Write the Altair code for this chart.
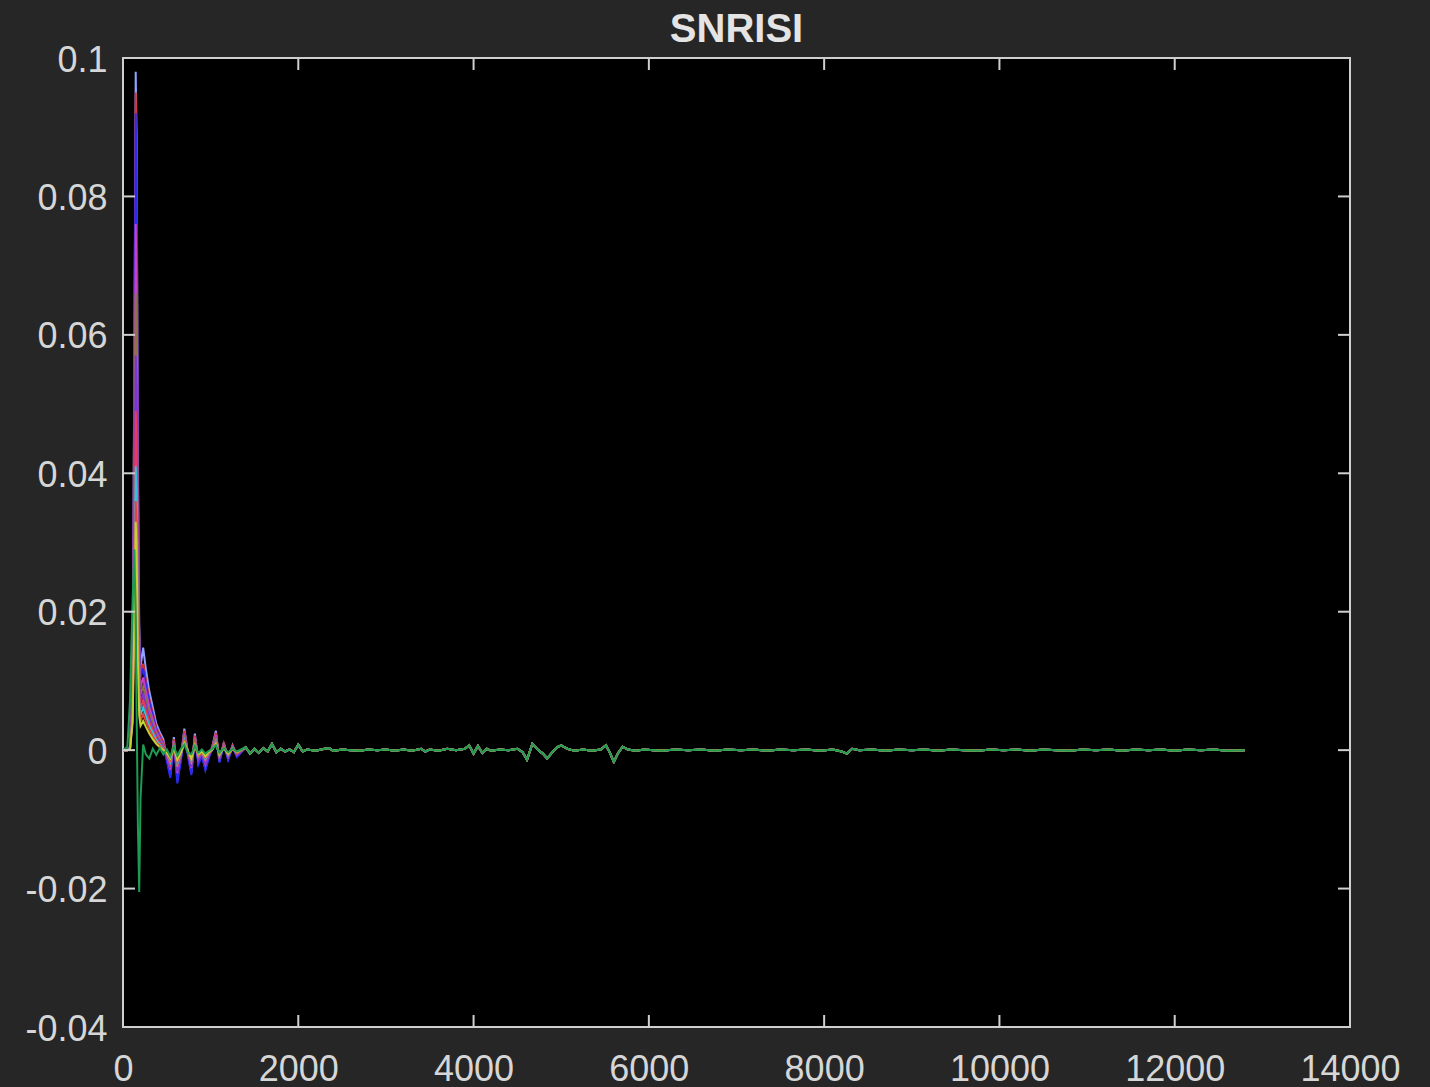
import altair as alt
import pandas as pd

# ---------------- data ----------------
x_early = [0, 50, 80, 110, 130, 145, 155, 170, 185, 200, 230, 260, 300, 340, 380,
           420, 460, 500, 540, 580, 620, 660, 700, 740, 780, 820, 860, 900, 940,
           980, 1020, 1060, 1100, 1150, 1200, 1250, 1300]

s01 = [0, 0, 0.0005, 0.012, 0.058, 0.098, 0.088, 0.042, 0.018, 0.012, 0.0148, 0.0118, 0.0085,
       0.0062, 0.0038, 0.0026, 0.0016, -0.0012, -0.0036, 0.0019, -0.0042, -0.0012, 0.0031,
       -0.0004, -0.0033, 0.0024, -0.0018, -0.0006, -0.0027, -0.0009, 0.0006, 0.0028, -0.0016,
       0.0011, -0.0013, 0.0007, -0.0009]
s02 = [0, 0, 0.0004, 0.011, 0.055, 0.095, 0.085, 0.040, 0.017, 0.011, 0.0125, 0.0102, 0.0074,
       0.0054, 0.0033, 0.0022, 0.0012, -0.0011, -0.0032, 0.0016, -0.0038, -0.0011, 0.0028,
       -0.0003, -0.0030, 0.0021, -0.0016, -0.0005, -0.0024, -0.0008, 0.0005, 0.0025, -0.0014,
       0.0010, -0.0011, 0.0006, -0.0008]
s03 = [0, 0, 0.0004, 0.010, 0.052, 0.092, 0.083, 0.039, 0.016, 0.0105, 0.0118, 0.0096, 0.0070,
       0.0050, 0.0030, 0.0018, 0.0008, -0.0016, -0.0040, 0.0012, -0.0048, -0.0016, 0.0024,
       -0.0008, -0.0036, 0.0017, -0.0021, -0.0009, -0.0029, -0.0011, 0.0002, 0.0021, -0.0018,
       0.0007, -0.0014, 0.0004, -0.0010]
s04 = [0, 0, 0.0003, 0.009, 0.044, 0.076, 0.069, 0.033, 0.014, 0.009, 0.0105, 0.0086, 0.0062,
       0.0045, 0.0027, 0.0017, 0.0008, -0.0009, -0.0028, 0.0013, -0.0033, -0.0009, 0.0024,
       -0.0003, -0.0026, 0.0018, -0.0014, -0.0004, -0.0021, -0.0007, 0.0004, 0.0022, -0.0012,
       0.0008, -0.0010, 0.0005, -0.0007]
s05 = [0, 0, 0.0003, 0.008, 0.039, 0.066, 0.060, 0.029, 0.012, 0.008, 0.0092, 0.0075, 0.0054,
       0.0039, 0.0023, 0.0014, 0.0006, -0.0008, -0.0025, 0.0011, -0.0029, -0.0008, 0.0021,
       -0.0003, -0.0023, 0.0016, -0.0012, -0.0004, -0.0018, -0.0006, 0.0003, 0.0019, -0.0011,
       0.0007, -0.0009, 0.0004, -0.0006]
s06 = [0, 0, 0.0002, 0.007, 0.034, 0.057, 0.052, 0.025, 0.0105, 0.007, 0.0082, 0.0066, 0.0047,
       0.0034, 0.0020, 0.0012, 0.0004, -0.0009, -0.0026, 0.0008, -0.0031, -0.0010, 0.0017,
       -0.0005, -0.0024, 0.0012, -0.0014, -0.0006, -0.0019, -0.0007, 0.0001, 0.0015, -0.0012,
       0.0005, -0.0010, 0.0003, -0.0007]
s07 = [0, 0, 0.0002, 0.006, 0.029, 0.049, 0.045, 0.022, 0.009, 0.006, 0.0072, 0.0058, 0.0041,
       0.0029, 0.0017, 0.0010, 0.0003, -0.0006, -0.0020, 0.0008, -0.0024, -0.0007, 0.0016,
       -0.0003, -0.0019, 0.0012, -0.0010, -0.0004, -0.0015, -0.0005, 0.0002, 0.0015, -0.0009,
       0.0005, -0.0008, 0.0003, -0.0005]
s08 = [0, 0, 0.0002, 0.005, 0.024, 0.041, 0.038, 0.018, 0.007, 0.005, 0.0062, 0.0050, 0.0035,
       0.0025, 0.0014, 0.0008, 0.0002, -0.0005, -0.0017, 0.0007, -0.0020, -0.0006, 0.0014,
       -0.0002, -0.0016, 0.0010, -0.0009, -0.0003, -0.0013, -0.0004, 0.0002, 0.0013, -0.0008,
       0.0004, -0.0007, 0.0003, -0.0004]
s09 = [0, 0, 0.0001, 0.0045, 0.021, 0.036, 0.033, 0.015, 0.006, 0.0042, 0.0052, 0.0042, 0.0030,
       0.0020, 0.0011, 0.0006, 0.0001, -0.0005, -0.0015, 0.0005, -0.0017, -0.0005, 0.0012,
       -0.0002, -0.0014, 0.0008, -0.0008, -0.0003, -0.0011, -0.0004, 0.0001, 0.0011, -0.0007,
       0.0004, -0.0006, 0.0002, -0.0004]
s10 = [0, 0, 0.0001, 0.004, 0.019, 0.033, 0.030, 0.013, 0.005, 0.0035, 0.0042, 0.0034, 0.0024,
       0.0016, 0.0009, 0.0004, 0.0, -0.0004, -0.0012, 0.0004, -0.0014, -0.0004, 0.0010,
       -0.0001, -0.0012, 0.0007, -0.0006, -0.0002, -0.0009, -0.0003, 0.0001, 0.0009, -0.0006,
       0.0003, -0.0005, 0.0002, -0.0003]
s11 = [0, 0.0005, 0.0072, 0.022, 0.029, 0.018, 0.006, -0.011, -0.0205, -0.007, 0.0008, -0.0006,
       -0.0012, 0.0002, -0.0007, 0.0003, -0.0006, 0.0001, -0.0009, 0.0005, -0.0008, 0.0002,
       0.0008, -0.0004, -0.0006, 0.0006, -0.0004, 0.0001, -0.0005, -0.0001, 0.0002, 0.0007,
       -0.0004, 0.0003, -0.0003, 0.0002, -0.0002]

# common tail shared by all traces (they overlap completely here)
tail_points = [
    (1400, 0.0004), (1450, -0.0005), (1500, 0.0002), (1550, -0.0004), (1600, 0.0003),
    (1650, -0.0002), (1700, 0.0009), (1750, -0.0003), (1800, 0.0002), (1850, -0.0002),
    (1900, 0.0001), (1950, -0.0003), (2000, 0.0008), (2050, -0.0002), (2100, 0.0001),
    (2200, -0.0001), (2300, 0.0002), (2350, 0.0003), (2400, -0.0001), (2500, 0.0001),
    (2600, 0.0), (2700, -0.0001), (2800, 0.0001), (2900, 0.0), (3000, 0.0001),
    (3100, -0.0001), (3200, 0.0001), (3300, -0.0001), (3400, 0.0002), (3450, -0.0002),
    (3500, 0.0001), (3600, -0.0001), (3700, 0.0002), (3800, 0.0), (3900, 0.0002),
    (3950, 0.0007), (4000, -0.0005), (4050, 0.0006), (4100, -0.0004), (4150, 0.0002),
    (4200, -0.0001), (4300, 0.0001), (4400, 0.0), (4500, 0.0002), (4560, -0.0003),
    (4610, -0.0014), (4670, 0.0009), (4740, 0.0), (4790, -0.0005), (4840, -0.0012),
    (4900, -0.0003), (4950, 0.0004), (5000, 0.0007), (5070, 0.0002), (5150, -0.0001),
    (5250, 0.0001), (5350, -0.0001), (5450, 0.0001), (5510, 0.0007), (5560, -0.0005),
    (5600, -0.0017), (5650, -0.0004), (5700, 0.0005), (5760, 0.0001), (5850, -0.0001),
    (5950, 0.0001), (6050, 0.0), (6150, -0.0001), (6300, 0.0001), (6450, 0.0),
    (6600, 0.0001), (6750, -0.0001), (6900, 0.0001), (7050, 0.0), (7200, 0.0001),
    (7350, -0.0001), (7500, 0.0001), (7650, 0.0), (7800, 0.0001), (7950, -0.0001),
    (8100, 0.0001), (8200, -0.0002), (8260, -0.0005), (8320, 0.0002), (8400, 0.0),
    (8550, 0.0001), (8700, -0.0001), (8850, 0.0001), (9000, 0.0), (9150, 0.0001),
    (9300, -0.0001), (9450, 0.0001), (9600, 0.0), (9750, -0.0001), (9900, 0.0001),
    (10050, 0.0), (10200, 0.0001), (10350, -0.0001), (10500, 0.0001), (10650, 0.0),
    (10800, -0.0001), (10950, 0.0001), (11100, 0.0), (11250, 0.0001), (11400, -0.0001),
    (11550, 0.0001), (11700, 0.0), (11850, 0.0001), (12000, -0.0001), (12150, 0.0001),
    (12300, 0.0), (12450, 0.0001), (12600, -0.0001), (12800, 0.0),
]

series_names = ["s01", "s02", "s03", "s04", "s05", "s06", "s07", "s08", "s09", "s10", "s11"]
series_values = [s01, s02, s03, s04, s05, s06, s07, s08, s09, s10, s11]
series_colors = ["#8ea4ff", "#d83030", "#2a2aec", "#c840c0", "#8c7444", "#7a34d8",
                 "#e83a5c", "#30c4d8", "#e04444", "#c4d034", "#1f9a52"]

x_ticks = [0, 2000, 4000, 6000, 8000, 10000, 12000, 14000]
y_ticks = [-0.04, -0.02, 0, 0.02, 0.04, 0.06, 0.08, 0.1]
title_text = ["SNRISI"]

# ---------------- build table ----------------
rows = []
for name, vals in zip(series_names, series_values):
    assert len(vals) == len(x_early), name
    for xv, yv in zip(x_early, vals):
        rows.append({"x": xv, "y": yv, "series": name})
    for xv, yv in tail_points:
        rows.append({"x": xv, "y": yv, "series": name})
df = pd.DataFrame(rows)
xt_df = pd.DataFrame({"x": x_ticks})
yt_df = pd.DataFrame({"y": y_ticks})
title_df = pd.DataFrame({"t": title_text})

# ---------------- styling ----------------
FONT = "Liberation Sans, Arial, Helvetica, sans-serif"
AX = "#cfcfcf"
LABEL = "#d6d6d6"
W, H, TICK = 1227, 969, 12

xscale = alt.Scale(domain=[0, 14000], nice=False, zero=False)
yscale = alt.Scale(domain=[-0.04, 0.1], nice=False, zero=False)

x_axis = alt.Axis(values=x_ticks, format="d", ticks=False, domain=False, grid=False,
                  labelFont=FONT, labelFontSize=36, labelColor=LABEL, labelPadding=25,
                  labelFlush=False, labelOverlap=False)
y_axis = alt.Axis(values=y_ticks, labelExpr="'' + datum.value", ticks=False, domain=False,
                  grid=False, labelFont=FONT, labelFontSize=36, labelColor=LABEL,
                  labelPadding=16, labelFlush=False, labelOverlap=False, labelOffset=2)

X = alt.X("x:Q", scale=xscale, axis=x_axis, title=None)
Y = alt.Y("y:Q", scale=yscale, axis=y_axis, title=None)

lines = alt.Chart(df).mark_line(strokeWidth=2, clip=True).encode(
    x=X, y=Y,
    color=alt.Color("series:N", scale=alt.Scale(domain=series_names, range=series_colors),
                    legend=None),
)

bottom_ticks = alt.Chart(xt_df).mark_rule(color=AX, strokeWidth=2).encode(
    x=X, y=alt.value(H), y2=alt.value(H - TICK))
top_ticks = alt.Chart(xt_df).mark_rule(color=AX, strokeWidth=2).encode(
    x=X, y=alt.value(0), y2=alt.value(TICK))
left_ticks = alt.Chart(yt_df).mark_rule(color=AX, strokeWidth=2).encode(
    y=Y, x=alt.value(0), x2=alt.value(TICK))
right_ticks = alt.Chart(yt_df).mark_rule(color=AX, strokeWidth=2).encode(
    y=Y, x=alt.value(W), x2=alt.value(W - TICK))

title_mark = alt.Chart(title_df).mark_text(
    font=FONT, fontSize=40, fontWeight="bold", color="#e4e4e4",
    align="center", baseline="alphabetic",
).encode(text="t:N", x=alt.value(W / 2), y=alt.value(-16))

chart = alt.layer(lines, bottom_ticks, top_ticks, left_ticks, right_ticks, title_mark).properties(
    width=W, height=H,
    background="#262626",
    padding={"left": 123, "top": 58, "right": 72, "bottom": 60},
    autosize=alt.AutoSizeParams(type="none"),
).configure_view(fill="black", stroke=AX, strokeWidth=2)

chart.save("out.html", embed_options={
    "renderer": "svg", "actions": False,
    "defaultStyle": "html,body{background:#262626;margin:0;overflow:hidden} .vega-embed svg{display:block}",
})
